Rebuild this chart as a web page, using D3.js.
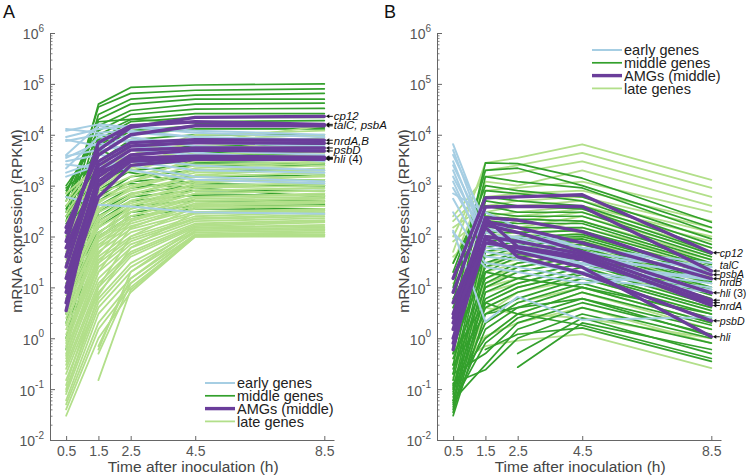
<!DOCTYPE html>
<html><head><meta charset="utf-8">
<script src="https://cdn.jsdelivr.net/npm/d3@7"></script>
<style>
body{margin:0;background:#fff;}
svg{display:block;font-family:"Liberation Sans",Arial,Helvetica,sans-serif;}
</style></head>
<body><svg id="chart" width="747" height="476"></svg>
<script>
// ---------- DATA ----------
const times = [0.5, 1.5, 2.5, 4.5, 8.5];
const xTickValues = [0.5, 1.5, 2.5, 4.5, 8.5];
const yTickExponents = [-2, -1, 0, 1, 2, 3, 4, 5, 6];
const seriesNames = ["early genes", "middle genes", "AMGs (middle)", "late genes"];
const seriesColors = ["#a6cee3", "#33a02c", "#6a3d9a", "#b2df8a"];

// Panel A (RPKM at 0.5, 1.5, 2.5, 4.5, 8.5 h)
const earlyA = [
  [1.3e4,1.1e4,1.2e4,9e3,8e3],[1.2e4,1.6e4,1.4e4,1.1e4,9e3],[9e3,1.3e4,1.5e4,1.2e4,1e4],
  [8e3,6e3,8e3,7e3,6e3],[7.5e3,1e4,9e3,6e3,5e3],[4e3,1.5e4,1.1e4,9e3,7e3],
  [3.8e3,5e3,6e3,4.5e3,3e3],[3.5e3,7e3,5e3,4e3,3.5e3],[3e3,4e3,3.5e3,2.5e3,2e3],
  [2.6e3,2.2e3,3e3,2e3,1.8e3],[2.2e3,9e3,7e3,5e3,4e3],[1.8e3,3e3,2.5e3,1.5e3,1.2e3],
  [1.5e3,2.5e3,2e3,1.3e3,1.1e3],[600,420,390,300,280]
];
const middleA = [
  [200,4e4,8.5e4,9.5e4,1e5],[300,3.5e4,6.5e4,7.5e4,8e4],[150,2.5e4,5e4,6e4,6.5e4],
  [500,2e4,4e4,5e4,5e4],[100,1.5e4,3e4,4e4,4.2e4],[800,1.2e4,2.5e4,3.2e4,3.3e4],
  [60,1e4,2e4,2.6e4,2.6e4],[1000,8e3,1.8e4,2.2e4,2.2e4],[40,6e3,1.5e4,1.8e4,1.9e4],
  [350,5e3,1.2e4,1.5e4,1.6e4],[25,4e3,1e4,1.3e4,1.3e4],[700,1.8e4,2e4,1.7e4,1.4e4],
  [15,3e3,8e3,1e4,1e4],[250,2.5e3,6e3,8e3,8e3],[8,2e3,5e3,6e3,6.5e3],
  [120,1.5e3,4e3,5e3,5e3],[5,1.2e3,3e3,4e3,4e3],[80,1e3,2.5e3,3e3,3.2e3],
  [3,800,2e3,2.5e3,2.5e3],[45,600,1.5e3,2e3,2e3],[2,500,1.2e3,1.5e3,1.6e3],
  [30,400,900,1.2e3,1.3e3],[1,300,700,1e3,1e3],[20,250,600,800,800],
  [0.6,200,500,650,650],[12,150,400,500,500],[10,120,300,400,420],
  [6,100,250,350,350],[400,2.2e3,1.8e3,1.1e3,1e3],[600,5e3,3e3,2.8e3,2.7e3],
  [900,3e3,5e3,4.5e3,4.5e3],[180,800,1.1e3,900,600]
];
const amgA = [
  [120,5e3,1.4e4,2.2e4,2.3e4],[80,7e3,1.5e4,1.8e4,1.6e4],[150,4e3,1e4,1.5e4,1.5e4],
  [40,3e3,7e3,8e3,7.8e3],[25,2.5e3,6e3,7e3,6.8e3],[60,2e3,5e3,5.5e3,5.5e3],
  [15,1.5e3,4e3,5e3,4.8e3],[10,1.2e3,3.5e3,3.8e3,3.6e3],[5,1e3,3e3,3.5e3,3.4e3],
  [3.5,1.8e3,3.2e3,3.6e3,3.5e3],[8,600,2.5e3,3.3e3,3.3e3]
];
const lateA = [
  [500,3e3,5e3,8e3,1e4],[300,2e3,4e3,1e4,1.2e4],[400,2.5e3,3e3,5e3,6e3],[200,1.5e3,2.5e3,6e3,8e3],
  [150,1.2e3,2e3,4e3,5e3],[100,1e3,3e3,5e3,4.5e3],[80,800,1.5e3,3e3,3.5e3],[60,700,1.2e3,2.5e3,3e3],
  [50,600,1e3,2e3,2.5e3],[40,500,900,1.8e3,2e3],[30,400,800,1.5e3,1.8e3],[25,350,700,1.3e3,1.5e3],
  [20,300,600,1.2e3,1.3e3],[15,250,500,1e3,1.1e3],[12,200,450,900,1e3],[10,180,400,800,900],
  [8,150,350,700,800],[6,120,300,600,700],[5,100,250,550,600],[4,90,220,500,550],
  [3,80,200,450,500],[2.5,70,180,400,450],[2,60,160,350,400],[1.5,50,140,300,350],
  [1.2,40,120,280,320],[1,35,100,250,300],[0.8,30,90,230,270],[0.6,25,80,220,250],
  [0.5,20,70,200,230],[0.4,15,60,180,210],[0.3,12,50,170,200],[0.25,10,45,160,190],
  [0.2,8,40,150,170],[0.15,6,30,140,150],[0.1,5,25,130,140],[0.08,4,20,120,130],
  [0.06,3,15,110,120],[0.05,2,12,105,110],[0.04,1.5,10,100,105],[0.03,1,8,100,100],
  [null,0.15,9,100,110],[null,0.5,12,110,120],[null,0.7,15,130,140],[null,0.6,20,150,160],
  [700,2.5e3,4e3,7e3,7e3],[250,1.8e3,3.5e3,7e3,1.5e4],[120,900,2.2e3,4.5e3,9e3],[35,450,1.2e3,3.5e3,4e3],
  [18,320,900,2.2e3,2.8e3],[9,220,650,1.6e3,2.2e3],[7,160,500,1.1e3,1.6e3],[3.5,110,400,900,1.2e3],
  [1.8,90,350,800,900],[0.9,60,300,700,800],[0.7,45,250,600,650],[0.45,30,200,500,560],
  [0.35,20,150,420,480],[0.12,10,100,380,400],[0.09,7,60,300,330]
];

// Panel B
const earlyB = [
  [6500,150,90,40,25],[5000,100,70,35,20],[4000,200,120,60,30],[3000,80,60,30,15],
  [2500,120,80,40,18],[2000,60,50,25,12],[1500,90,100,50,22],[1200,50,40,20,10],
  [900,70,55,28,14],[700,300,150,60,25],[550,40,35,18,9],[300,30,25,15,8],
  [130,2.1,6.5,2.3,2.6],[120,25,20,12,20]
];
const middleB = [
  [5,2800,2700,1400,190],[10,2000,2200,1000,150],[3,1500,1200,900,120],[20,1000,800,600,90],
  [2,800,700,500,70],[30,600,500,400,60],[1,500,400,350,50],[8,400,300,300,45],
  [0.5,300,250,250,40],[15,250,220,200,35],[0.3,200,180,180,30],[4,150,150,150,28],
  [0.2,120,120,130,25],[6,100,100,110,22],[0.15,80,90,100,20],[2.5,60,80,90,18],
  [0.1,50,70,80,15],[1.5,40,60,70,13],[0.08,30,50,60,12],[0.7,25,45,55,10],
  [0.06,20,40,50,9],[0.4,15,30,45,8],[0.05,12,25,40,7],[0.25,10,20,35,6],
  [0.04,8,15,30,5],[0.12,6,12,25,4.5],[0.035,5,10,20,4],[0.09,4,8,18,3.5],
  [0.03,3,6,15,3],[0.07,2,5,12,2.5],[0.045,1.5,4,10,2],[0.11,1,3,8,1.8],
  [0.055,0.8,2.5,6,1.5],[0.2,0.5,2,5,1.2],[0.06,0.3,1.5,4,1],[0.13,0.24,1,3,0.8],
  [null,null,0.27,2,0.6],[null,null,0.5,2.5,0.5],[null,0.6,1.2,1.6,0.35],[0.5,5,3,1.8,0.4],
  [1,20,15,10,3],[0.3,3,4,6,1.1]
];
const amgB = [
  [15,575,600,660,48],[8,380,390,390,21],[3,235,210,125,17.7],[2.5,195,150,75,14.8],
  [1.5,170,120,50,7.8],[0.6,230,63,40,4.4],[1,100,80,45,5.6],[0.8,75,60,35,5],
  [5,150,40,19,2.2],[2,90,50,25,1.07]
];
const lateB = [
  [50,2800,3500,6500,1300],[100,2000,2500,4400,900],[250,1500,1800,3000,600],[30,1200,1000,2000,400],
  [200,800,900,1200,300],[15,600,700,800,200],[150,400,500,600,150],[8,300,400,500,120],
  [80,250,300,400,100],[5,200,250,350,80],[40,150,200,300,60],[3,120,150,250,50],
  [20,100,120,200,40],[2,80,100,150,35],[12,60,80,120,30],[1.5,50,60,100,25],
  [6,40,50,80,20],[1,30,40,70,16],[4,25,35,60,14],[0.8,20,30,50,12],
  [2.5,15,25,40,10],[0.5,12,20,35,8],[0.3,10,15,30,6],[0.2,8,12,25,5],
  [0.15,5,10,20,4],[0.1,3,8,15,3],[0.12,2,5,10,2],[1,1,3,8,1.5],
  [0.4,4,3,2.5,1],[0.3,0.7,0.9,1.2,0.26],[0.17,1.1,2,4,0.8]
];

// AMG labels: text parts [string, italic?], text baseline y
const labelsA = [
  {parts:[["cp12",1]], y:120},
  {parts:[["talC, psbA",1]], y:129},
  {parts:[["nrdA,B",1]], y:144.5},
  {parts:[["psbD",1]], y:154},
  {parts:[["hli",1],[" (4)",0]], y:163}
];
const labelsB = [
  {parts:[["cp12",1]], y:257},
  {parts:[["talC",1]], y:269},
  {parts:[["psbA",1]], y:278},
  {parts:[["nrdB",1]], y:286},
  {parts:[["hli",1],[" (3)",0]], y:297},
  {parts:[["nrdA",1]], y:310},
  {parts:[["psbD",1]], y:325},
  {parts:[["hli",1]], y:341}
];

// ---------- DRAW ----------
const svg = d3.select("#chart");
const yScale = d3.scaleLog().domain([1e-2, 1e6]).range([440, 33]);

const panels = [
  {label:"A", labelX:3, x0:50, x1:334, early:earlyA, middle:middleA, amg:amgA, late:lateA,
   order:["middle","late","early","amg"], labels:labelsA, labelFont:11.5, labelGap:9.5,
   legendX:205, legendY:383, ytitleX:22},
  {label:"B", labelX:384, x0:437, x1:721, early:earlyB, middle:middleB, amg:amgB, late:lateB,
   order:["late","middle","early","amg"], labels:labelsB, labelFont:10.6, labelGap:8.5,
   legendX:592, legendY:50, ytitleX:409}
];
const styleOf = {
  early:{color:seriesColors[0], w:2},
  middle:{color:seriesColors[1], w:1.7},
  amg:{color:seriesColors[2], w:3.4},
  late:{color:seriesColors[3], w:1.8}
};

panels.forEach(p => {
  const x = d3.scaleLinear().domain([0, 8.8]).range([p.x0, p.x1]);
  const g = svg.append("g");
  const lineD = arr => d3.line().defined(d => d.v != null).x(d => x(d.t)).y(d => yScale(d.v))(arr.map((v,i)=>({t:times[i], v})));

  p.order.forEach(key => {
    const st = styleOf[key];
    g.append("g").selectAll("path").data(p[key]).join("path")
      .attr("d", lineD)
      .attr("fill","none").attr("stroke", st.color)
      .attr("stroke-width", st.w).attr("stroke-linejoin","round").attr("stroke-linecap","round");
  });

  // Axes
  const axisColor = "#666";
  const yMajor = yTickExponents.map(e => Math.pow(10, e));
  const yMinor = [];
  yTickExponents.slice(0,-1).forEach(e => { for (let k=2;k<=9;k++) yMinor.push(k*Math.pow(10,e)); });

  const yAxisMinor = g.append("g").attr("transform",`translate(${p.x0},0)`)
    .call(d3.axisLeft(yScale).tickValues(yMinor).tickSize(-2.5).tickFormat(""));
  yAxisMinor.select(".domain").remove();
  yAxisMinor.selectAll("line").attr("stroke", axisColor).attr("stroke-width",0.8);

  const yAxis = g.append("g").attr("transform",`translate(${p.x0},0)`)
    .call(d3.axisLeft(yScale).tickValues(yMajor).tickSizeInner(-5).tickSizeOuter(0).tickPadding(7).tickFormat(""));
  yAxis.select(".domain").attr("stroke", axisColor);
  yAxis.selectAll("line").attr("stroke", axisColor);
  yAxis.selectAll(".tick text").each(function(d){
    const t = d3.select(this);
    const e = Math.round(Math.log10(d));
    t.attr("fill","#555").attr("font-size",14).attr("dy","0.42em").attr("x",-6);
    t.append("tspan").text("10");
    t.append("tspan").attr("font-size",10).attr("dy","-0.75em").text(String(e));
  });

  const xAxis = g.append("g").attr("transform","translate(0,440)")
    .call(d3.axisBottom(x).tickValues(xTickValues).tickSizeInner(-4).tickSizeOuter(0).tickPadding(6).tickFormat(d3.format(".1f")));
  xAxis.select(".domain").attr("stroke", axisColor);
  xAxis.selectAll("line").attr("stroke", axisColor);
  xAxis.selectAll("text").attr("fill","#555").attr("font-size",14);

  // Titles
  g.append("text").attr("x", (p.x0 + x(8.5))/2 + 6).attr("y", 472)
    .attr("text-anchor","middle").attr("font-size",15.5).attr("fill","#444")
    .text("Time after inoculation (h)");
  g.append("text").attr("transform",`translate(${p.ytitleX},221) rotate(-90)`)
    .attr("text-anchor","middle").attr("font-size",15.5).attr("fill","#444")
    .text("mRNA expression (RPKM)");
  g.append("text").attr("x", p.labelX).attr("y", 18).attr("font-size",18).attr("fill","#111")
    .text(p.label);

  // Legend
  const lg = g.append("g");
  const legendKeys = ["early","middle","amg","late"];
  legendKeys.forEach((k,i) => {
    const yy = p.legendY + i*12.8;
    lg.append("line").attr("x1", p.legendX).attr("x2", p.legendX+30).attr("y1", yy).attr("y2", yy)
      .attr("stroke", styleOf[k].color).attr("stroke-width", styleOf[k].w);
    lg.append("text").attr("x", p.legendX+32).attr("y", yy).attr("dy","0.36em")
      .attr("font-size",14.5).attr("fill","#222").text(seriesNames[i]);
  });

  // AMG arrows and labels
  const ex = x(8.5);
  p.amg.forEach(s => {
    const yy = yScale(s[4]);
    g.append("line").attr("x1", ex+4).attr("x2", ex+8.5).attr("y1", yy).attr("y2", yy)
      .attr("stroke","#111").attr("stroke-width",1);
    g.append("path").attr("d", `M${ex+1.5},${yy} L${ex+5},${yy-2} L${ex+5},${yy+2} Z`).attr("fill","#111");
  });
  p.labels.forEach(l => {
    const t = g.append("text").attr("x", ex+p.labelGap).attr("y", l.y).attr("font-size",p.labelFont).attr("fill","#111");
    l.parts.forEach(([s, it]) => t.append("tspan").attr("font-style", it ? "italic" : "normal").text(s));
  });
});
</script>
</body></html>
